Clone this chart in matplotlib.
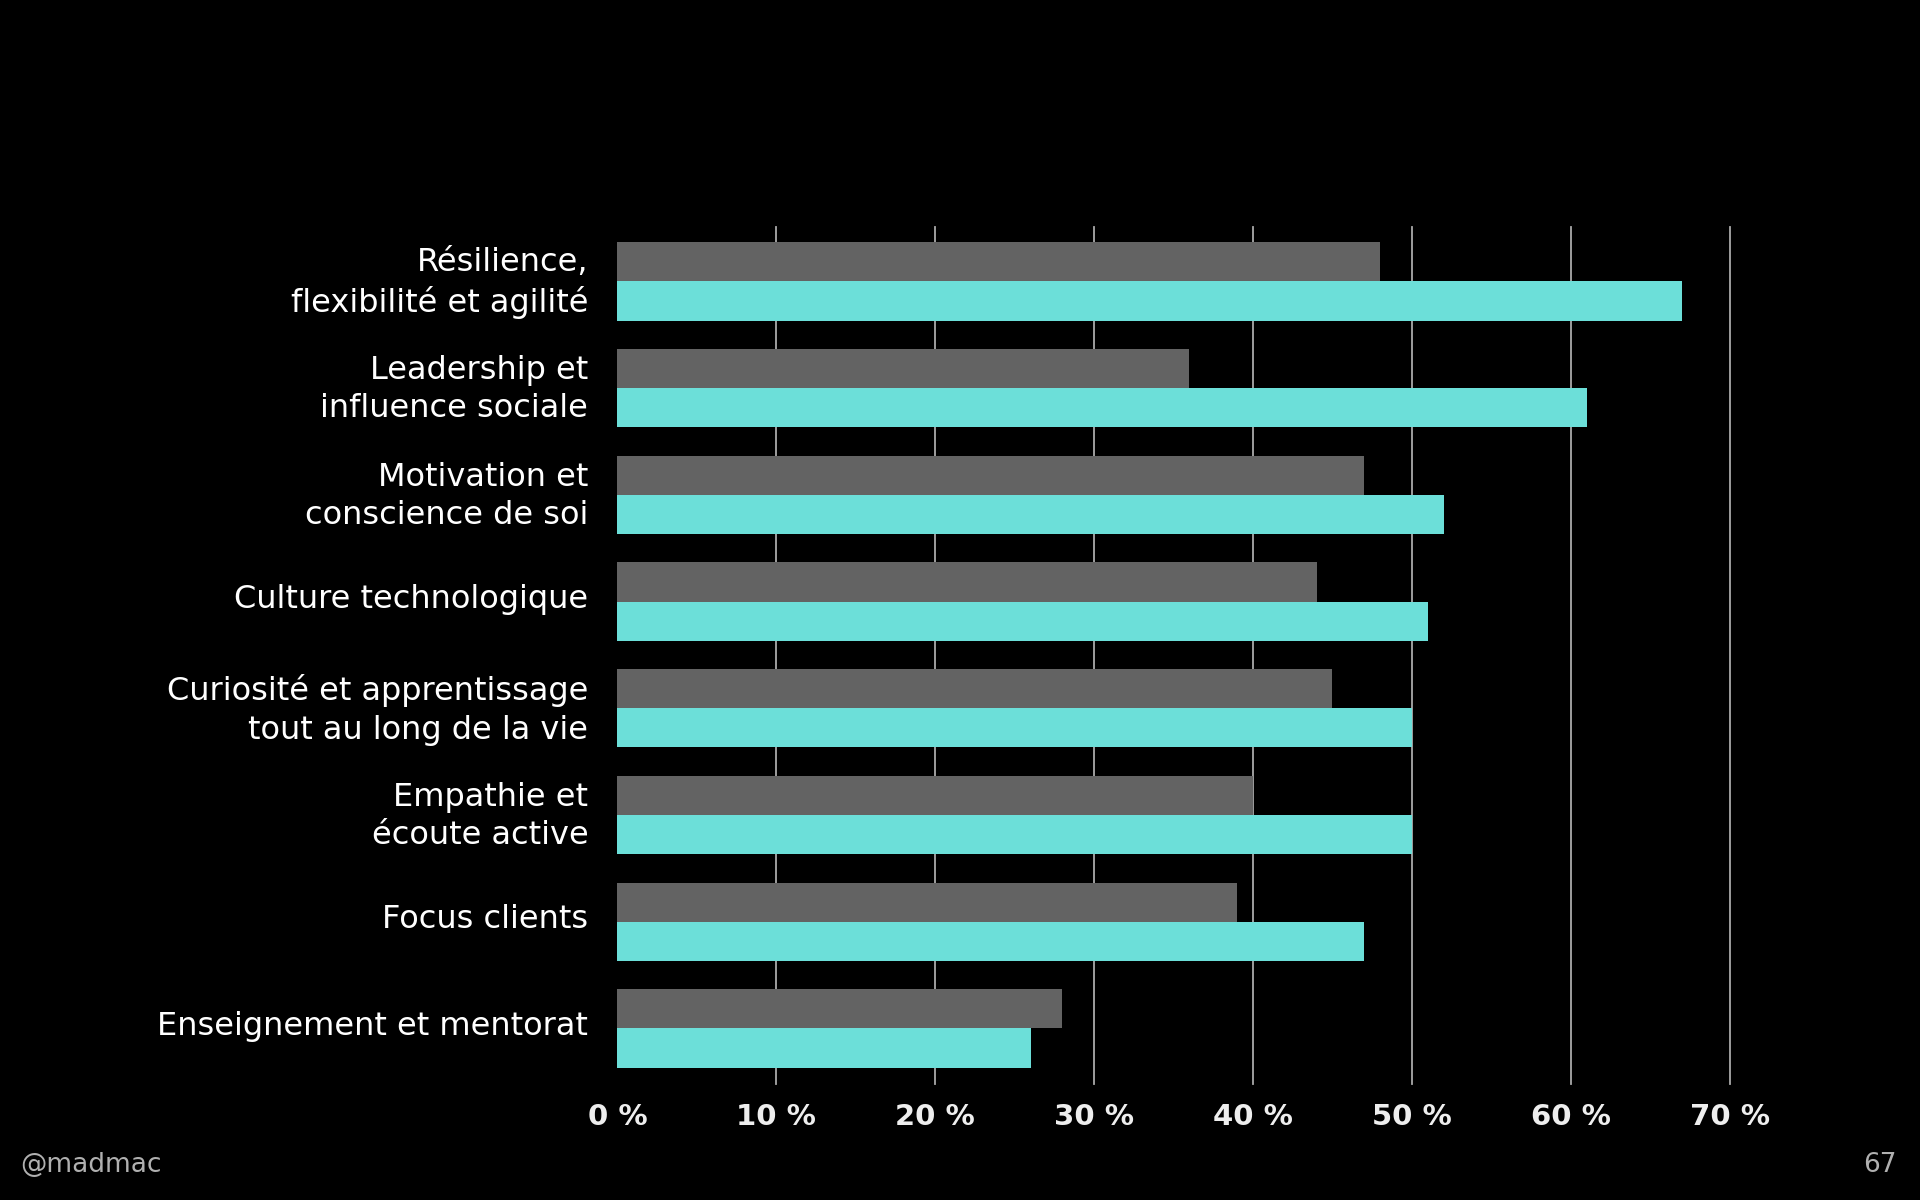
import matplotlib
matplotlib.use('Agg')
from matplotlib import pyplot as plt
from matplotlib.transforms import ScaledTranslation

plt.close('all')

categories = ['Résilience,\nflexibilité et agilité',
              'Leadership et\ninfluence sociale',
              'Motivation et\nconscience de soi',
              'Culture technologique',
              'Curiosité et apprentissage\ntout au long de la vie',
              'Empathie et\nécoute active',
              'Focus clients',
              'Enseignement et mentorat']
gray_vals = [48, 36, 47, 44, 45, 40, 39, 28]
teal_vals = [67, 61, 52, 51, 50, 50, 47, 26]
xticks = [0, 10, 20, 30, 40, 50, 60, 70]
xtick_labels = [str(v) + ' %' for v in xticks]

bg = 'black'
gray = '#636363'
teal = '#6cdfd9'

fig = plt.figure(figsize=(19.2, 12), dpi=100, facecolor=bg)
ax = fig.add_axes([0.3216, 0.0967, 0.5793, 0.7141], facecolor=bg)

y = list(range(len(categories)))
h = 0.367
ax.barh([v - h/2 for v in y], gray_vals, height=h, color=gray, zorder=2)
ax.barh([v + h/2 for v in y], teal_vals, height=h, color=teal, zorder=2)

ax.set_xlim(0, 70)
ax.set_ylim(7.52, -0.51)
ax.set_xticks(xticks)
ax.set_xticklabels(xtick_labels, fontsize=21, fontweight='bold', color='#eeeeee',
                   family='DejaVu Sans')
ax.set_yticks(y)
ax.set_yticklabels(categories, fontsize=23, color='white', linespacing=1.3,
                   family='DejaVu Sans')
ax.tick_params(axis='x', length=0, pad=14)
ax.tick_params(axis='y', length=0, pad=21)

# nudge category labels up a little
for lab in ax.get_yticklabels():
    lab.set_transform(lab.get_transform() + ScaledTranslation(0, 0.055, fig.dpi_scale_trans))

for xv in xticks[1:]:
    ax.axvline(xv, color='#aaaaaa', lw=1.3, zorder=1, clip_on=False)

for s in ax.spines.values():
    s.set_visible(False)

fig.text(0.0105, 0.029, '@madmac', fontsize=19, color='#b0b0b0',
         family='DejaVu Sans', va='center', ha='left')
fig.text(0.988, 0.029, '67', fontsize=19, color='#b0b0b0',
         family='DejaVu Sans', va='center', ha='right')

fig.savefig('out.png', dpi=100, facecolor=bg)
